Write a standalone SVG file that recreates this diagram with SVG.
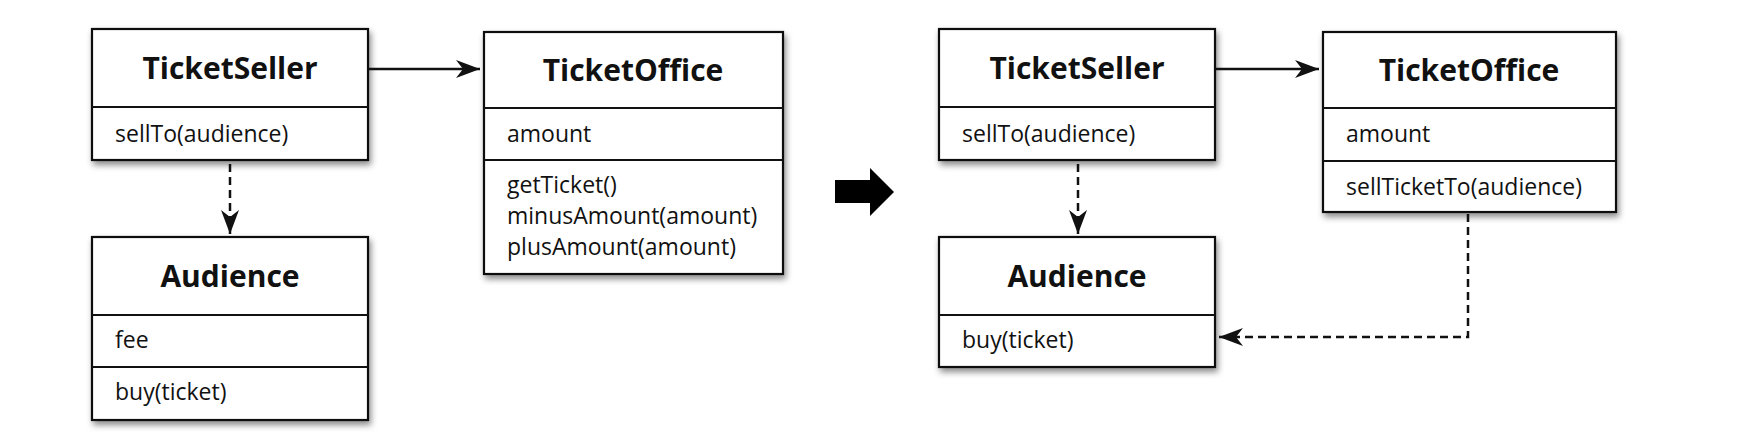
<svg xmlns="http://www.w3.org/2000/svg" width="1740" height="443" viewBox="0 0 1740 443">
<style>
.box{fill:#fff;stroke:#111;stroke-width:2.2}
.div{stroke:#111;stroke-width:2.2}
.title{font-family:"Open Sans","Liberation Sans",sans-serif;font-weight:bold;font-size:30px;fill:#111;text-anchor:middle}
.txt{font-family:"Open Sans","Liberation Sans",sans-serif;font-size:23px;fill:#111}
.solid{fill:none;stroke:#111;stroke-width:2.5}
.dash{fill:none;stroke:#111;stroke-width:2.5;stroke-dasharray:8 5}
</style>
<defs>
<filter id="sh" x="-10%" y="-10%" width="125%" height="130%">
<feDropShadow dx="2" dy="4" stdDeviation="3" flood-color="#000" flood-opacity="0.45"/>
</filter>
<marker id="ah" markerUnits="userSpaceOnUse" markerWidth="26" markerHeight="20" viewBox="-24 -10 26 20" refX="0" refY="0" orient="auto">
<path d="M-24,-9 L0,0 L-24,9 L-17,0 z" fill="#111"/>
</marker>
</defs>
<rect width="1740" height="443" fill="#fff"/>

<g id="left-ticketseller">
<rect class="box" x="92" y="29" width="276" height="131" filter="url(#sh)"/>
<line class="div" x1="92" y1="107" x2="368" y2="107"/>
<text class="title" x="230" y="79">TicketSeller</text>
<text class="txt" x="115" y="142">sellTo(audience)</text>
</g>

<g id="left-audience">
<rect class="box" x="92" y="237" width="276" height="183" filter="url(#sh)"/>
<line class="div" x1="92" y1="315" x2="368" y2="315"/>
<line class="div" x1="92" y1="367" x2="368" y2="367"/>
<text class="title" x="230" y="287">Audience</text>
<text class="txt" x="115" y="348">fee</text>
<text class="txt" x="115" y="400">buy(ticket)</text>
</g>

<g id="left-ticketoffice">
<rect class="box" x="484" y="32" width="299" height="242" filter="url(#sh)"/>
<line class="div" x1="484" y1="108" x2="783" y2="108"/>
<line class="div" x1="484" y1="160" x2="783" y2="160"/>
<text class="title" x="633" y="81">TicketOffice</text>
<text class="txt" x="507" y="142">amount</text>
<text class="txt" x="507" y="193">getTicket()</text>
<text class="txt" x="507" y="224">minusAmount(amount)</text>
<text class="txt" x="507" y="255">plusAmount(amount)</text>
</g>

<g id="transform-arrow">
<polygon points="835,180 870,180 870,168 894,192 870,216 870,203 835,203" fill="#000"/>
</g>

<g id="right-ticketseller">
<rect class="box" x="939" y="29" width="276" height="131" filter="url(#sh)"/>
<line class="div" x1="939" y1="107" x2="1215" y2="107"/>
<text class="title" x="1077" y="79">TicketSeller</text>
<text class="txt" x="962" y="142">sellTo(audience)</text>
</g>

<g id="right-audience">
<rect class="box" x="939" y="237" width="276" height="130" filter="url(#sh)"/>
<line class="div" x1="939" y1="315" x2="1215" y2="315"/>
<text class="title" x="1077" y="287">Audience</text>
<text class="txt" x="962" y="348">buy(ticket)</text>
</g>

<g id="right-ticketoffice">
<rect class="box" x="1323" y="32" width="293" height="180" filter="url(#sh)"/>
<line class="div" x1="1323" y1="108" x2="1616" y2="108"/>
<line class="div" x1="1323" y1="161" x2="1616" y2="161"/>
<text class="title" x="1469" y="81">TicketOffice</text>
<text class="txt" x="1346" y="142">amount</text>
<text class="txt" x="1346" y="195">sellTicketTo(audience)</text>
</g>

<g id="connectors">
<line class="solid" x1="368" y1="69" x2="480" y2="69" marker-end="url(#ah)"/>
<line class="dash" x1="230" y1="164" x2="230" y2="234" marker-end="url(#ah)"/>
<line class="solid" x1="1215" y1="69" x2="1319" y2="69" marker-end="url(#ah)"/>
<line class="dash" x1="1078" y1="164" x2="1078" y2="234" marker-end="url(#ah)"/>
<path class="dash" d="M1468,214 V337 H1219" marker-end="url(#ah)"/>
</g>
</svg>
